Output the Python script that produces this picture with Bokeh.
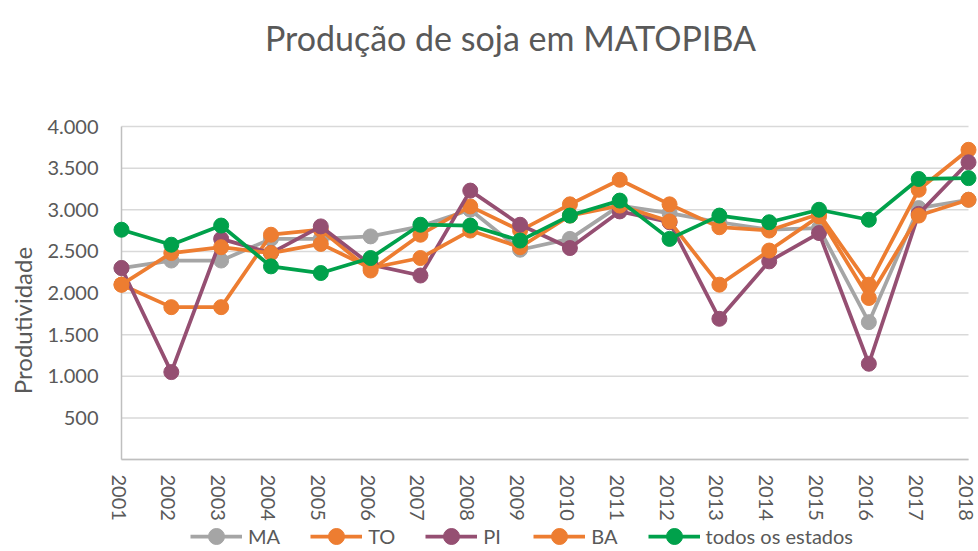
import math
from bokeh.plotting import figure
from bokeh.models import Range1d, Legend, LegendItem, Label
from bokeh.core.properties import value
from bokeh.embed import file_html
from bokeh.resources import INLINE

years = [2001, 2002, 2003, 2004, 2005, 2006, 2007, 2008, 2009,
         2010, 2011, 2012, 2013, 2014, 2015, 2016, 2017, 2018]

ma = [2300, 2390, 2390, 2650, 2650, 2680, 2800, 3000, 2520,
      2650, 3050, 2960, 2850, 2760, 2780, 1650, 3020, 3120]
to = [2100, 1830, 1830, 2700, 2760, 2270, 2700, 3040, 2750,
      3065, 3360, 3065, 2790, 2750, 2950, 2100, 3240, 3720]
pi = [2300, 1050, 2650, 2480, 2800, 2340, 2210, 3230, 2820,
      2540, 2980, 2850, 1690, 2380, 2720, 1150, 2950, 3570]
ba = [2100, 2480, 2550, 2480, 2590, 2300, 2420, 2750, 2550,
      2930, 3050, 2860, 2100, 2510, 2920, 1940, 2930, 3120]
todos = [2760, 2580, 2810, 2320, 2240, 2420, 2820, 2810, 2630,
         2930, 3110, 2650, 2930, 2850, 3000, 2880, 3370, 3380]

series_names = ["MA", "TO", "PI", "BA", "todos os estados"]
series_values = [ma, to, pi, ba, todos]
series_colors = ["#A5A5A5", "#ED7D31", "#954F72", "#ED7D31", "#00A14B"]

y_ticks = [500, 1000, 1500, 2000, 2500, 3000, 3500, 4000]
y_tick_labels = [f"{v:,}".replace(",", ".") for v in y_ticks]
x_tick_labels = [str(y) for y in years]
grid_values = [0] + y_ticks

TITLE = "Produção de soja em MATOPIBA"
Y_LABEL = "Produtividade"

FONT = "Lato"
TEXT = "#595959"

W, H = 978, 551
# layout: pixel positions of the plot area (first/last year, 0 and top tick)
PX_FIRST, PX_LAST = 121.0, 968.0
PY_ZERO, PY_TOP = 459.0, 126.0
ux = (years[-1] - years[0]) / (PX_LAST - PX_FIRST)      # data units per px
uy = (y_ticks[-1] - 0) / (PY_ZERO - PY_TOP)


def px_x(px):
    return years[0] + (px - PX_FIRST) * ux


def px_y(py):
    return (PY_ZERO - py) * uy


p = figure(width=W, height=H, output_backend="svg", toolbar_location=None,
           x_range=Range1d(px_x(0), px_x(W)), y_range=Range1d(px_y(H), px_y(0)),
           min_border=0, min_border_left=0, min_border_right=0,
           min_border_top=0, min_border_bottom=0)
p.outline_line_color = None
p.axis.visible = False
p.grid.visible = False

# gridlines and axis lines
p.segment(x0=[years[0]] * len(grid_values), x1=[years[-1]] * len(grid_values),
          y0=grid_values, y1=grid_values, line_color="#D9D9D9", line_width=1.5)
p.segment(x0=[years[0]], x1=[years[0]], y0=[0], y1=[y_ticks[-1]],
          line_color="#BFBFBF", line_width=1.5)
p.segment(x0=[years[0]], x1=[years[-1]], y0=[0], y1=[0],
          line_color="#BFBFBF", line_width=1.5)

# tick labels
p.text(x=[px_x(98)] * len(y_ticks), y=y_ticks, text=y_tick_labels,
       text_align="right", text_baseline="middle", text_font=value(FONT),
       text_font_size="20px", text_color=TEXT)
p.text(x=years, y=[px_y(474)] * len(years), text=x_tick_labels,
       angle=-math.pi / 2, text_align="left", text_baseline="middle",
       x_offset=-3, text_font=value(FONT), text_font_size="20px",
       text_color=TEXT)

items = []
for name, vals, col in zip(series_names, series_values, series_colors):
    lr = p.line(years, vals, line_color=col, line_width=3.75)
    cr = p.scatter(years, vals, size=15, fill_color=col, line_color=col)
    items.append(LegendItem(label=name, renderers=[lr, cr]))

# title and y-axis title
p.add_layout(Label(x=px_x(510), y=px_y(37), text=TITLE, text_align="center",
                   text_baseline="alphabetic", text_font=FONT,
                   text_font_size="34px", text_color=TEXT))
p.add_layout(Label(x=px_x(22), y=px_y(320), text=Y_LABEL, text_align="center",
                   text_baseline="middle", angle=math.pi / 2, text_font=FONT,
                   text_font_size="24px", text_color=TEXT))

legend = Legend(items=items, orientation="horizontal", location=(190, -5),
                label_text_font=FONT, label_text_font_size="20px",
                label_text_color=TEXT, glyph_width=52, glyph_height=40,
                spacing=30, padding=0, margin=0, border_line_color=None,
                background_fill_alpha=0, label_standoff=6)
p.add_layout(legend, "center")

open("out.html", "w").write(file_html(p, INLINE))
